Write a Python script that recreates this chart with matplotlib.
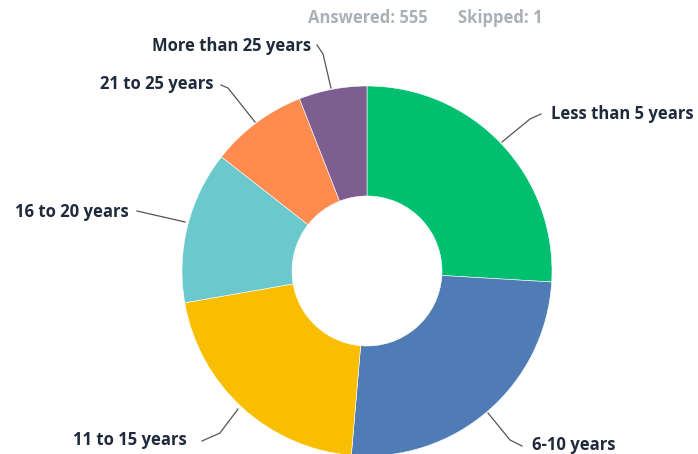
import matplotlib.pyplot as plt
import numpy as np

# ------------------------------------------------------------
# Data (answers out of 555)
# ------------------------------------------------------------
categories = ['Less than 5 years', '6-10 years', '11 to 15 years',
              '16 to 20 years', '21 to 25 years', 'More than 25 years']
counts = [144, 141, 116, 74, 47, 33]
colors = ['#00bf6f', '#507cb6', '#f9be00', '#6bc8cd', '#ff8b4f', '#7d5e90']

# label anchor positions (pixels, top-left origin) and leader lines
label_pos = {
    'Less than 5 years':  (551, 114, 'left'),
    '6-10 years':         (532, 445, 'left'),
    '11 to 15 years':     (187, 440, 'right'),
    '16 to 20 years':     (129, 212, 'right'),
    '21 to 25 years':     (214, 84, 'right'),
    'More than 25 years': (311, 46, 'right'),
}
leaders = {
    'Less than 5 years':  [(502, 142), (530, 119), (541, 114)],
    '6-10 years':         [(488, 413), (510, 440), (522, 446)],
    '11 to 15 years':     [(238, 409), (220, 433), (202, 441)],
    '16 to 20 years':     [(185, 222), (137, 211)],
    '21 to 25 years':     [(255, 122), (228, 88), (221, 85)],
    'More than 25 years': [(331, 88), (323, 54), (317, 45)],
}

W, H = 698, 454
fig = plt.figure(figsize=(W / 100, H / 100), dpi=100)
ax = fig.add_axes([0, 0, 1, 1])

cx, cy, r = 367, H - 271, 185
ax.pie(counts, colors=colors, startangle=90, counterclock=False,
       center=(cx, cy), radius=r, frame=True,
       wedgeprops=dict(width=r - 75, edgecolor='white', linewidth=0.4))
ax.set_xlim(0, W)
ax.set_ylim(0, H)
ax.axis('off')

for cat in categories:
    x, y, ha = label_pos[cat]
    ax.text(x, H - y, cat, ha=ha, va='center', fontsize=12,
            fontweight='bold', family='Open Sans', color='#1f2a3c')
    pts = np.array(leaders[cat], dtype=float)
    ax.plot(pts[:, 0], H - pts[:, 1], color='#555555', linewidth=0.9)

ax.text(308, H - 18, 'Answered: 555', ha='left', va='center', fontsize=12,
        fontweight='bold', family='Open Sans', color='#a9b0b7')
ax.text(458, H - 18, 'Skipped: 1', ha='left', va='center', fontsize=12,
        fontweight='bold', family='Open Sans', color='#a9b0b7')

plt.savefig('out.png', dpi=100)
